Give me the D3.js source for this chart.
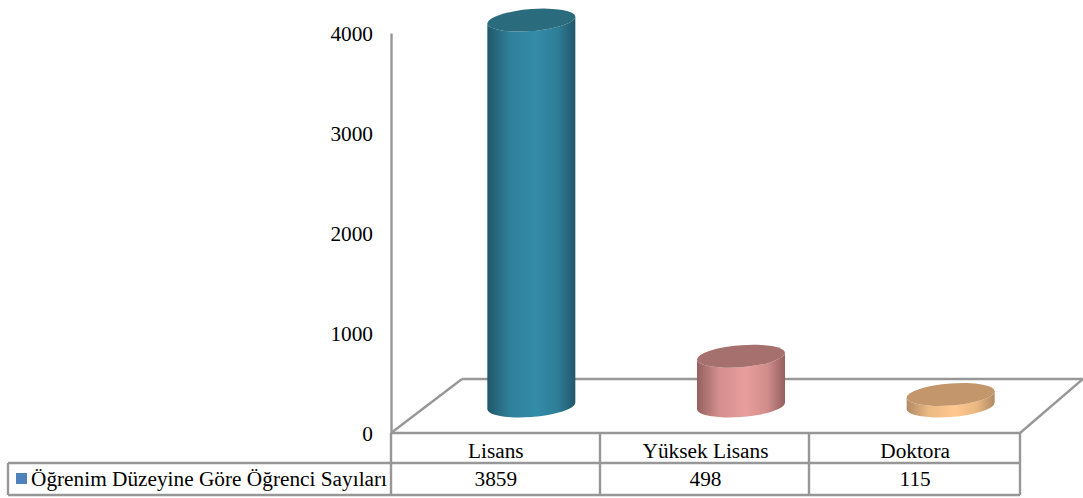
<!DOCTYPE html>
<html><head><meta charset="utf-8">
<script src="https://cdn.jsdelivr.net/npm/d3@7"></script>
<style>html,body{margin:0;padding:0;background:#fff;overflow:hidden}svg{display:block}text{font-family:"Liberation Serif",serif;fill:#000}</style>
</head><body><svg id="c" width="1083" height="498"></svg>
<script>
const categories = ["Lisans", "Yüksek Lisans", "Doktora"];
const values = [3859, 498, 115];
const seriesName = "Öğrenim Düzeyine Göre Öğrenci Sayıları";
const yTicks = [0, 1000, 2000, 3000, 4000];
const sideEdge = ["#21576a", "#94605f", "#b08a62"];
const sideLight = ["#338ca9", "#e89e9c", "#ffc88f"];
const topFill = ["#2a6b7d", "#a5706e", "#c3966c"];

const svg = d3.select("#c");
const grey = "#979797";
const y = d3.scaleLinear().domain([0, 4000]).range([433, 33]);
const x = d3.scaleBand().domain(categories).range([391, 1020]);
const depthX = 71, depthY = 54, rightX = 1083;
const y0 = y(0), backY = y0 - depthY;
const fs = 21.3, lw = 2.4;

const line = (x1, y1, x2, y2, w = lw, c = grey) => svg.append("line")
  .attr("x1", x1).attr("y1", y1).attr("x2", x2).attr("y2", y2)
  .attr("stroke", c).attr("stroke-width", w);

// floor
line(391, y0, 391 + depthX, backY);
line(391 + depthX, backY, rightX, backY);
line(1020, y0, rightX, backY);

// y axis
const axis = d3.axisLeft(y).tickValues(yTicks).tickSize(0).tickPadding(18).tickFormat(d3.format("d"));
const ax = svg.append("g").attr("transform", "translate(391,0)").call(axis);
ax.select(".domain").attr("stroke", grey).attr("stroke-width", lw);
ax.selectAll("text").style("font-size", fs + "px").style("font-family", '"Liberation Serif",serif').attr("fill", "#000").attr("y", 1);

// gradients
const defs = svg.append("defs");
categories.forEach((c, i) => {
  const g = defs.append("linearGradient").attr("id", "g" + i);
  g.append("stop").attr("offset", 0).attr("stop-color", sideEdge[i]);
  g.append("stop").attr("offset", 0.25).attr("stop-color", d3.interpolateRgb(sideEdge[i], sideLight[i])(0.75));
  g.append("stop").attr("offset", 0.55).attr("stop-color", sideLight[i]);
  g.append("stop").attr("offset", 0.8).attr("stop-color", d3.interpolateRgb(sideEdge[i], sideLight[i])(0.72));
  g.append("stop").attr("offset", 1).attr("stop-color", sideEdge[i]);
});

// cylinders
const a = 44, b = 11, s = 3.3, baseLift = 27;
categories.forEach((c, i) => {
  const cx = x(c) + x.bandwidth() / 2 + 35.5;
  const yb = y(0) - baseLift, yt = y(values[i]) - baseLift;
  const g = svg.append("g").attr("transform", `matrix(1,${-s / a},0,1,${cx},0)`);
  g.append("path")
    .attr("d", `M${-a},${yt}L${-a},${yb}A${a},${b} 0 0 0 ${a},${yb}L${a},${yt}A${a},${b} 0 0 1 ${-a},${yt}Z`)
    .attr("fill", `url(#g${i})`);
  g.append("ellipse").attr("cx", 0).attr("cy", yt).attr("rx", a).attr("ry", b).attr("fill", topFill[i]);
});

// data table
const tTop = y0, tMid = 463, tBot = 495, tLeft = 8;
line(391, tTop, 1020, tTop);
line(tLeft, tMid, 1020, tMid);
line(tLeft, tBot, 1020, tBot);
line(tLeft, tMid, tLeft, tBot);
[391, 600, 809, 1020].forEach(v => line(v, tTop, v, tBot));

const label = (t, px, py, anchor = "middle") => svg.append("text")
  .attr("x", px).attr("y", py).attr("text-anchor", anchor).attr("font-size", fs).text(t);
categories.forEach((c, i) => {
  const cx = x(c) + x.bandwidth() / 2;
  label(c, cx, 458);
  label(values[i], cx, 486);
});
svg.append("rect").attr("x", 16).attr("y", 473).attr("width", 11).attr("height", 11).attr("fill", "#4f81bd");
label(seriesName, 31, 486, "start");
</script></body></html>
